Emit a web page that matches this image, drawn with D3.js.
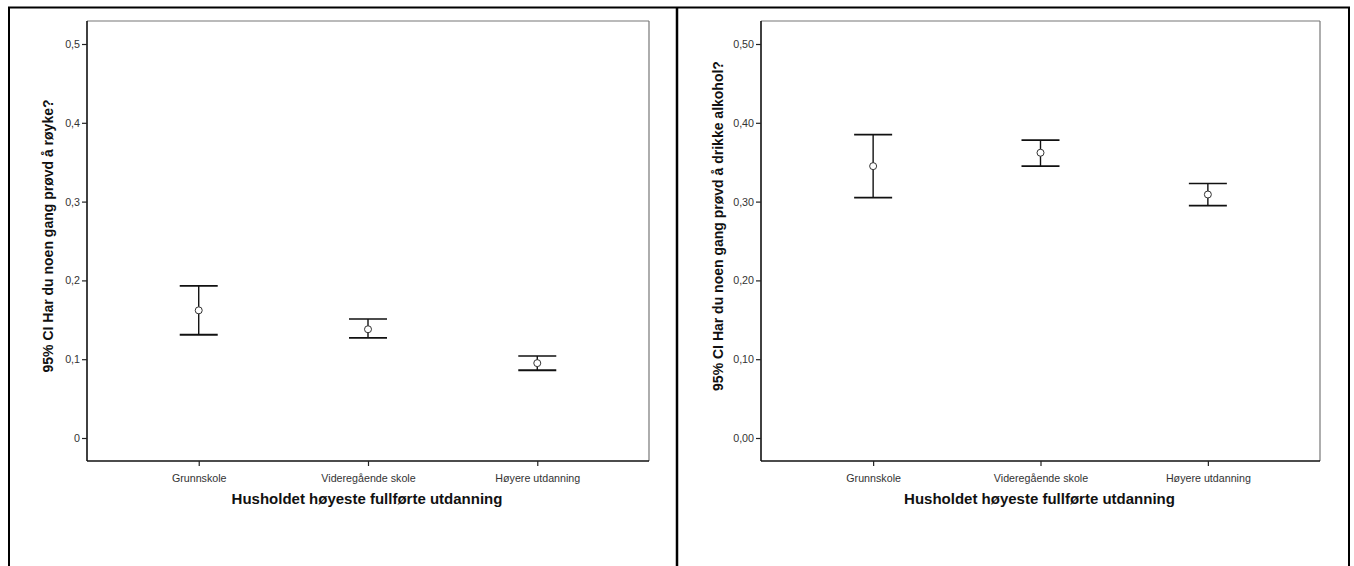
<!DOCTYPE html>
<html>
<head>
<meta charset="utf-8">
<script src="https://cdn.jsdelivr.net/npm/d3@7"></script>
<style>
  html, body { margin: 0; padding: 0; background: #fff; }
  svg { display: block; font-family: Arial, "Liberation Sans", sans-serif; }
</style>
</head>
<body>
<svg id="chart" width="1354" height="566"></svg>
<script>
// ---- data ----
const categories = ["Grunnskole", "Videregående skole", "Høyere utdanning"];

const smokeMean  = [0.162, 0.138, 0.095];
const smokeLower = [0.131, 0.127, 0.086];
const smokeUpper = [0.193, 0.151, 0.104];

const alcMean  = [0.345, 0.362, 0.309];
const alcLower = [0.305, 0.345, 0.295];
const alcUpper = [0.385, 0.378, 0.323];

const yTickValues = [0, 0.1, 0.2, 0.3, 0.4, 0.5];
const smokeTickLabels = ["0", "0,1", "0,2", "0,3", "0,4", "0,5"];
const alcTickLabels = ["0,00", "0,10", "0,20", "0,30", "0,40", "0,50"];

const xTitle = "Husholdet høyeste fullførte utdanning";
const smokeYTitle = "95% CI Har du noen gang prøvd å røyke?";
const alcYTitle = "95% CI Har du noen gang prøvd å drikke alkohol?";

// ---- drawing ----
const svg = d3.select("#chart");
const FONT = "Arial, 'Liberation Sans', sans-serif";

// outer frames
svg.append("line").attr("x1", 8).attr("x2", 1350).attr("y1", 7.5).attr("y2", 7.5)
  .attr("stroke", "#000").attr("stroke-width", 2);
svg.append("line").attr("x1", 9).attr("x2", 9).attr("y1", 7).attr("y2", 566)
  .attr("stroke", "#000").attr("stroke-width", 2);
svg.append("line").attr("x1", 677).attr("x2", 677).attr("y1", 7).attr("y2", 566)
  .attr("stroke", "#000").attr("stroke-width", 2.5);
svg.append("line").attr("x1", 1349).attr("x2", 1349).attr("y1", 7).attr("y2", 566)
  .attr("stroke", "#000").attr("stroke-width", 2);

function panel(opt) {
  const g = svg.append("g");
  const { left, right, top, bottom, yZero, yTop } = opt;

  const x = d3.scalePoint().domain(categories).range([left, right]).padding(opt.pad);
  const y = d3.scaleLinear().domain([0, 0.5]).range([yZero, yTop]);

  // plot frame: top/right gray, left/bottom black
  g.append("line").attr("x1", left).attr("x2", right).attr("y1", top).attr("y2", top)
    .attr("stroke", "#777").attr("stroke-width", 1.2);
  g.append("line").attr("x1", right).attr("x2", right).attr("y1", top).attr("y2", bottom)
    .attr("stroke", "#777").attr("stroke-width", 1.2);
  g.append("line").attr("x1", left).attr("x2", left).attr("y1", top).attr("y2", bottom)
    .attr("stroke", "#111").attr("stroke-width", 1.6);
  g.append("line").attr("x1", left).attr("x2", right).attr("y1", bottom).attr("y2", bottom)
    .attr("stroke", "#111").attr("stroke-width", 1.6);

  // y axis
  const yAxis = d3.axisLeft(y).tickValues(yTickValues).tickSize(5).tickPadding(2)
    .tickFormat((d, i) => opt.tickLabels[i]);
  const ya = g.append("g").attr("transform", `translate(${left},0)`).call(yAxis);
  ya.select(".domain").remove();
  ya.selectAll(".tick line").attr("stroke", "#222").attr("stroke-width", 1.2);
  ya.selectAll(".tick text").attr("font-size", 10.7).attr("fill", "#333")
    .attr("font-family", FONT);

  // x axis
  const xAxis = d3.axisBottom(x).tickSize(5).tickPadding(8);
  const xa = g.append("g").attr("transform", `translate(0,${bottom})`).call(xAxis);
  xa.select(".domain").remove();
  xa.selectAll(".tick line").attr("stroke", "#222").attr("stroke-width", 1.2);
  xa.selectAll(".tick text").attr("font-size", 10.7).attr("fill", "#333")
    .attr("font-family", FONT);

  // titles
  g.append("text").attr("x", (left + right) / 2 - 1).attr("y", bottom + 43)
    .attr("text-anchor", "middle").attr("font-size", 15).attr("font-weight", "bold")
    .attr("fill", "#111").attr("font-family", FONT).text(xTitle);
  g.append("text")
    .attr("transform", `translate(${opt.yTitleX},${opt.yTitleY}) rotate(-90)`)
    .attr("text-anchor", "middle").attr("font-size", 14).attr("font-weight", "bold")
    .attr("fill", "#111").attr("font-family", FONT).text(opt.yTitle);

  // error bars
  const data = categories.map((c, i) => ({ c, m: opt.mean[i], lo: opt.lower[i], hi: opt.upper[i] }));
  const cap = 19;
  const eb = g.selectAll(".eb").data(data).enter().append("g");
  eb.append("line").attr("x1", d => x(d.c)).attr("x2", d => x(d.c))
    .attr("y1", d => y(d.lo)).attr("y2", d => y(d.hi))
    .attr("stroke", "#111").attr("stroke-width", 1.4);
  eb.append("line").attr("x1", d => x(d.c) - cap).attr("x2", d => x(d.c) + cap)
    .attr("y1", d => y(d.hi)).attr("y2", d => y(d.hi))
    .attr("stroke", "#111").attr("stroke-width", 1.6);
  eb.append("line").attr("x1", d => x(d.c) - cap).attr("x2", d => x(d.c) + cap)
    .attr("y1", d => y(d.lo)).attr("y2", d => y(d.lo))
    .attr("stroke", "#111").attr("stroke-width", 1.8);
  eb.append("circle").attr("cx", d => x(d.c)).attr("cy", d => y(d.m)).attr("r", 3.5)
    .attr("fill", "#fff").attr("stroke", "#333").attr("stroke-width", 1);
}

panel({
  left: 87, right: 649, top: 21, bottom: 461, yZero: 438, yTop: 44, pad: 0.66,
  mean: smokeMean, lower: smokeLower, upper: smokeUpper,
  tickLabels: smokeTickLabels, yTitle: smokeYTitle, yTitleX: 53, yTitleY: 236
});
panel({
  left: 761, right: 1320, top: 21, bottom: 461, yZero: 438, yTop: 44, pad: 0.67,
  mean: alcMean, lower: alcLower, upper: alcUpper,
  tickLabels: alcTickLabels, yTitle: alcYTitle, yTitleX: 723, yTitleY: 226
});
</script>
</body>
</html>
